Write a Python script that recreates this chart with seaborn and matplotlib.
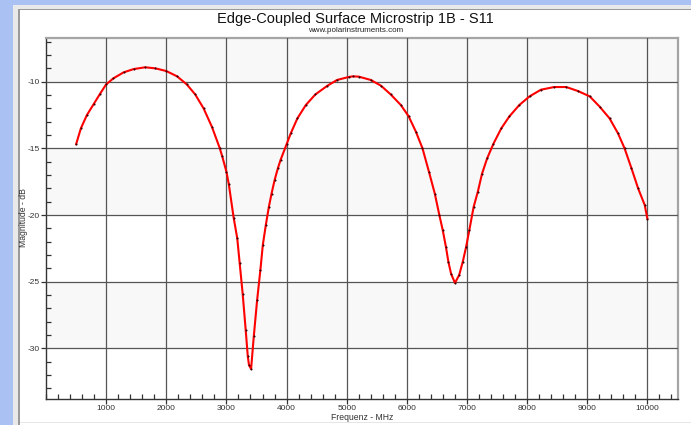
import numpy as np
import pandas as pd
import matplotlib
matplotlib.use("Agg")
import matplotlib.pyplot as plt
import seaborn as sns
from matplotlib.patches import Rectangle
from matplotlib.ticker import MultipleLocator

# ---- data ----
freq_mhz = [500, 580, 680, 790, 900, 1000, 1120, 1290, 1460, 1650, 1820, 2000,
            2180, 2340, 2480, 2620, 2760, 2890, 2930, 3000, 3040, 3120, 3180,
            3220, 3270, 3320, 3355, 3375, 3410, 3455, 3510, 3565, 3605, 3655,
            3705, 3750, 3800, 3855, 3900, 4000, 4070, 4180, 4320, 4480, 4680,
            4840, 5030, 5100, 5200, 5400, 5570, 5730, 5900, 6030, 6150, 6260,
            6370, 6465, 6540, 6595, 6650, 6690, 6735, 6800, 6870, 6930, 6985,
            7040, 7110, 7180, 7250, 7335, 7440, 7570, 7705, 7870, 8040, 8230,
            8450, 8650, 8845, 9040, 9205, 9370, 9510, 9620, 9735, 9845, 9955,
            10000]
s11_db = [-14.7, -13.5, -12.5, -11.7, -10.9, -10.2, -9.75, -9.3, -9.05, -8.92,
          -9.0, -9.2, -9.6, -10.2, -10.95, -12.0, -13.4, -15.0, -15.6, -16.75,
          -17.7, -20.2, -21.75, -23.6, -25.9, -28.6, -30.6, -31.25, -31.55,
          -29.1, -26.4, -24.1, -22.25, -20.75, -19.4, -18.4, -17.4, -16.5,
          -15.87, -14.7, -13.87, -12.75, -11.75, -10.95, -10.3, -9.87, -9.65,
          -9.6, -9.62, -9.87, -10.3, -10.95, -11.75, -12.6, -13.75, -15.0,
          -16.8, -18.4, -20.0, -21.1, -22.4, -23.5, -24.4, -25.1, -24.5,
          -23.5, -22.4, -21.1, -19.4, -18.25, -16.9, -15.75, -14.65, -13.5,
          -12.6, -11.75, -11.1, -10.6, -10.4, -10.4, -10.7, -11.1, -11.87,
          -12.75, -13.87, -15.0, -16.5, -18.0, -19.25, -20.3]

x_ticks = [1000, 2000, 3000, 4000, 5000, 6000, 7000, 8000, 9000, 10000]
y_ticks = [-30, -25, -20, -15, -10]
shaded_bands = [(-10, -6.7), (-20, -15), (-30, -25)]

title = "Edge-Coupled Surface Microstrip 1B - S11"
subtitle = "www.polarinstruments.com"
x_label = "Frequenz - MHz"
y_label = "Magnitude - dB"

df = pd.DataFrame({"freq": freq_mhz, "s11": s11_db})

sns.set_theme(style="white")
plt.rcParams['font.family'] = ['Liberation Sans', 'DejaVu Sans']

W, H = 691, 425
fig = plt.figure(figsize=(W / 100, H / 100), dpi=100, facecolor='white')


def rect_px(x0, y0, x1, y1):
    return [x0 / W, 1 - y1 / H, (x1 - x0) / W, (y1 - y0) / H]


def add_rect(x0, y0, x1, y1, color):
    l, b, w, h = rect_px(x0, y0, x1, y1)
    fig.patches.append(Rectangle((l, b), w, h, transform=fig.transFigure,
                                 facecolor=color, edgecolor='none', zorder=-10))


# window frame
add_rect(0, 0, 13.3, H, '#a9c1f3')
add_rect(0, 0, W, 5, '#a9c1f3')
add_rect(13.3, 5, 19, H, '#e9e9e9')
add_rect(13.3, 5, W, 9, '#e9e9e9')
add_rect(18, 9, 19.5, H, '#9a9a9a')
add_rect(18, 9, W, 10.3, '#9a9a9a')
add_rect(19.5, 421.5, W, 423, '#e6e6e6')

ax = fig.add_axes(rect_px(46, 37.7, 677.5, 399))
ax.set_facecolor('white')

for lo, hi in shaded_bands:
    ax.axhspan(lo, hi, color='#f8f8f8', zorder=0.1, lw=0)

sns.lineplot(data=df, x="freq", y="s11", ax=ax, color='#ff0000', lw=1.5,
             marker='o', markersize=1.5, markerfacecolor='#3a0000',
             markeredgewidth=0, zorder=3, sort=False)

ax.set_xlim(0, 10500)
ax.set_ylim(-33.8, -6.7)
ax.set_xticks(x_ticks)
ax.set_xticklabels([str(v) for v in x_ticks])
ax.set_yticks(y_ticks)
ax.set_yticklabels([str(v) for v in y_ticks])
ax.xaxis.set_minor_locator(MultipleLocator(200))
ax.yaxis.set_minor_locator(MultipleLocator(1))

ax.grid(True, which='major', color='#555555', lw=0.9)
ax.set_axisbelow(False)
for gl in ax.get_xgridlines() + ax.get_ygridlines():
    gl.set_zorder(1)

ax.tick_params(axis='both', which='major', direction='out', length=3.5,
               width=0.9, color='#333333', labelsize=6, labelcolor='#333333',
               pad=0.8, bottom=True, left=True)
ax.tick_params(axis='both', which='minor', direction='in', length=3.5,
               width=0.9, color='#333333', bottom=True, left=True)

for s in ['left', 'bottom']:
    ax.spines[s].set_color('#333333')
    ax.spines[s].set_linewidth(1.0)
for s in ['top', 'right']:
    ax.spines[s].set_color('#a5a5a5')
    ax.spines[s].set_linewidth(1.6)

ax.set_xlabel('')
ax.set_ylabel('')

fig.text(355.5 / W, 1 - 18.5 / H, title, ha='center', va='center',
         fontsize=10.5, color='#111111')
fig.text(356 / W, 1 - 30.5 / H, subtitle, ha='center', va='center',
         fontsize=5.8, color='#222222')
fig.text(361.7 / W, 1 - 418 / H, x_label, ha='center', va='center',
         fontsize=6.2, color='#333333')
fig.text(23 / W, 1 - 218 / H, y_label, ha='center', va='center',
         rotation=90, fontsize=6.2, color='#333333')

fig.savefig('out.png', dpi=100, facecolor='white')
